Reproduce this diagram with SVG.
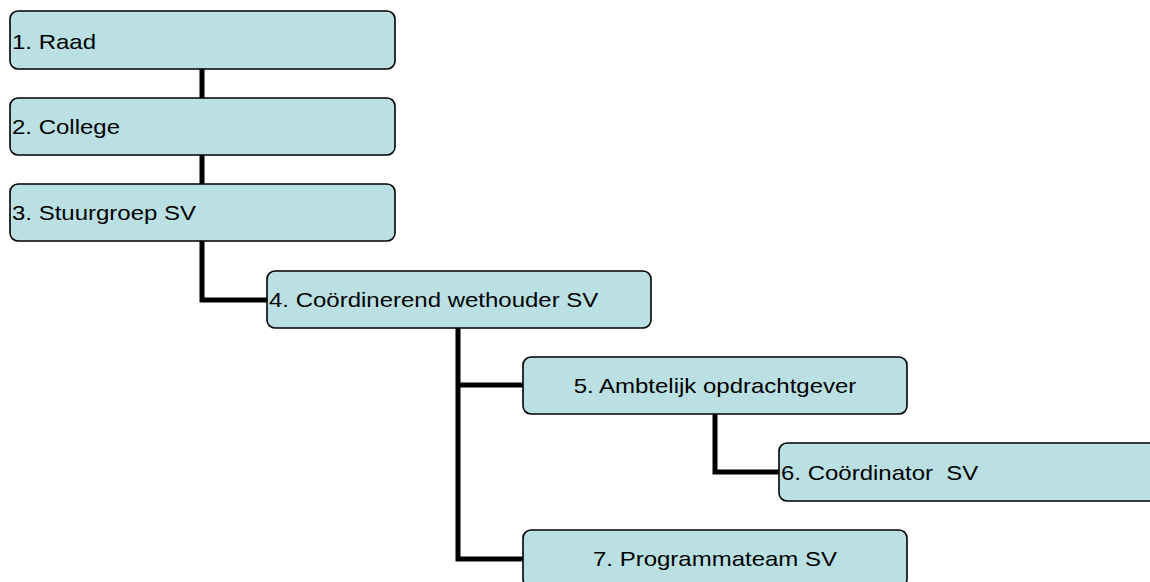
<svg xmlns="http://www.w3.org/2000/svg" width="1150" height="582" viewBox="0 0 1150 582">
<style>
.box{fill:#BAE0E3;stroke:#000;stroke-width:1.6}
.lbl{font-family:"Liberation Sans",Arial,sans-serif;font-size:20px;fill:#000;white-space:pre}
.mid{text-anchor:middle}
.conn{fill:none;stroke:#000;stroke-width:5}
</style>
<rect width="1150" height="582" fill="#fff"/>
<g id="connectors">
<path class="conn" d="M202,69 V98"/>
<path class="conn" d="M202,155 V184"/>
<path class="conn" d="M202,241 V300 H267"/>
<path class="conn" d="M458,328 V559 H523 M458,385 H523"/>
<path class="conn" d="M715,414 V472 H779"/>
</g>
<g id="n1"><rect class="box" x="10" y="11" width="385" height="58" rx="8"/><text class="lbl" transform="translate(12,48.5) scale(1.2,1)">1. Raad</text></g>
<g id="n2"><rect class="box" x="10" y="98" width="385" height="57" rx="8"/><text class="lbl" transform="translate(12,134) scale(1.2,1)">2. College</text></g>
<g id="n3"><rect class="box" x="10" y="184" width="385" height="57" rx="8"/><text class="lbl" transform="translate(12,220) scale(1.2,1)">3. Stuurgroep SV</text></g>
<g id="n4"><rect class="box" x="267" y="271" width="384" height="57" rx="8"/><text class="lbl" transform="translate(269,307) scale(1.2,1)">4. Coördinerend wethouder SV</text></g>
<g id="n5"><rect class="box" x="523" y="357" width="384" height="57" rx="8"/><text class="lbl mid" transform="translate(715,393) scale(1.2,1)">5. Ambtelijk opdrachtgever</text></g>
<g id="n6"><rect class="box" x="779" y="443" width="384" height="58" rx="8"/><text class="lbl" transform="translate(781,480) scale(1.2,1)" xml:space="preserve">6. Coördinator  SV</text></g>
<g id="n7"><rect class="box" x="523" y="530" width="384" height="57" rx="8"/><text class="lbl mid" transform="translate(715,566) scale(1.2,1)">7. Programmateam SV</text></g>
</svg>
